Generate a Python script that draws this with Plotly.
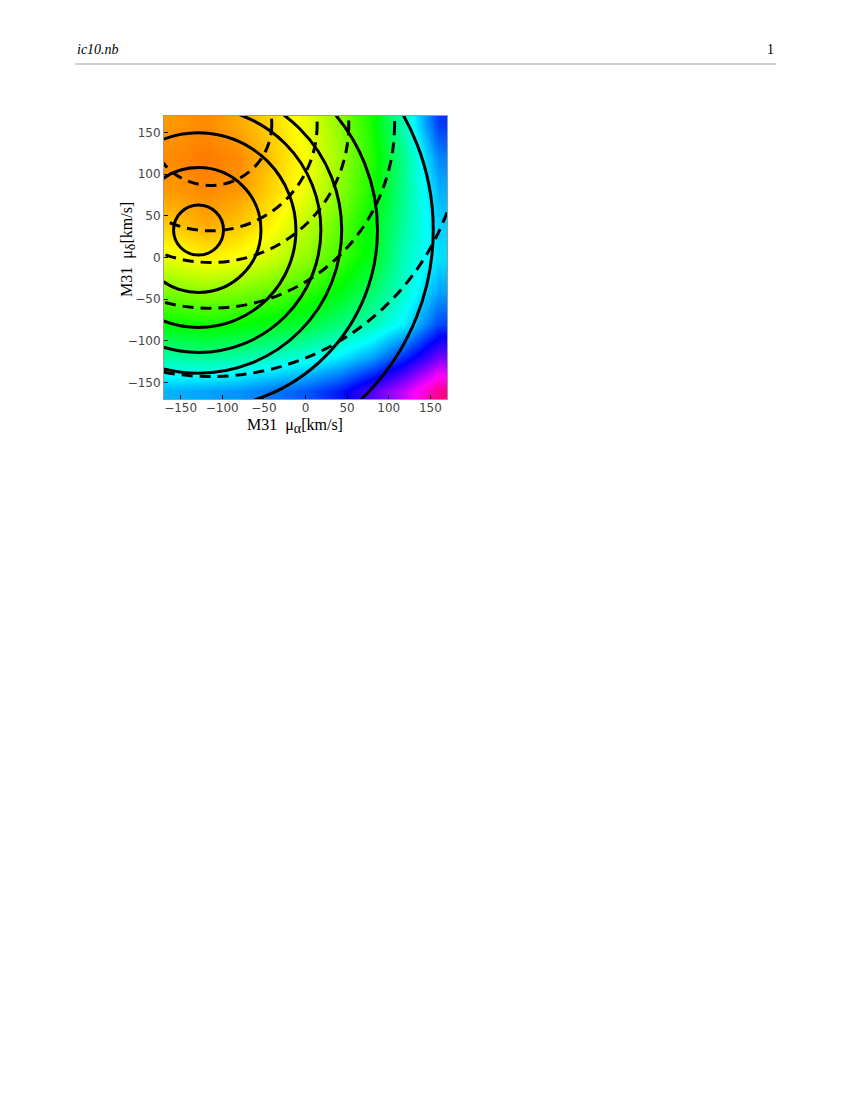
import plotly.graph_objects as go

# grade de amostragem (km/s)
mu_alpha = [-160, -120, -80, -40, 0, 40, 80, 120, 160]
mu_delta = [-160, -120, -80, -40, 0, 40, 80, 120, 160]

# valor de Hue, linhas de mu_delta = -160 ate 160
hue = [
    [0.55, 0.56, 0.57, 0.59, 0.61, 0.65, 0.72, 0.80, 0.91],
    [0.44, 0.43, 0.44, 0.46, 0.48, 0.51, 0.56, 0.64, 0.74],
    [0.33, 0.32, 0.33, 0.35, 0.37, 0.41, 0.45, 0.51, 0.62],
    [0.25, 0.24, 0.25, 0.27, 0.30, 0.34, 0.40, 0.47, 0.56],
    [0.18, 0.16, 0.17, 0.20, 0.24, 0.29, 0.35, 0.46, 0.52],
    [0.13, 0.11, 0.13, 0.16, 0.21, 0.27, 0.34, 0.44, 0.53],
    [0.10, 0.09, 0.10, 0.14, 0.18, 0.24, 0.32, 0.43, 0.55],
    [0.09, 0.08, 0.09, 0.13, 0.17, 0.23, 0.31, 0.43, 0.58],
    [0.10, 0.09, 0.11, 0.14, 0.18, 0.24, 0.32, 0.46, 0.63],
]

# contornos solidos (centro e raios)
solido_centro = (-128.5, 33)
solido_raios = [30, 75, 117, 147, 172, 215, 282]

# contornos tracejados (centro e raios)
tracejado_centro = (-114, 160)
tracejado_raios = [73.5, 128, 166, 221, 303]

ticks = [-150, -100, -50, 0, 50, 100, 150]

# escala de cores tipo Hue do Mathematica
escala_hue = [
    [0.0, "#ff0000"],
    [1 / 6, "#ffff00"],
    [2 / 6, "#00ff00"],
    [3 / 6, "#00ffff"],
    [4 / 6, "#0000ff"],
    [5 / 6, "#ff00ff"],
    [1.0, "#ff0000"],
]

# a pagina tem margem de 8px no body
OFF = 8
W, H = 852 - 2 * OFF, 1102 - 2 * OFF
L, T, LADO = 164 - OFF, 116 - OFF, 283
R, B = W - L - LADO, H - T - LADO


def px_x(x):
    return (x - OFF - L) / LADO


def px_y(y):
    return (T + LADO - (y - OFF)) / LADO


fig = go.Figure()

fig.add_trace(go.Heatmap(
    x=mu_alpha,
    y=mu_delta,
    z=hue,
    zmin=0,
    zmax=1,
    zsmooth="best",
    colorscale=escala_hue,
    showscale=False,
    hoverinfo="skip"
))

# circulos de contorno
for r in solido_raios:
    cx, cy = solido_centro
    fig.add_shape(
        type="circle", xref="x", yref="y",
        x0=cx - r, x1=cx + r, y0=cy - r, y1=cy + r,
        line=dict(color="black", width=3)
    )

for r in tracejado_raios:
    cx, cy = tracejado_centro
    fig.add_shape(
        type="circle", xref="x", yref="y",
        x0=cx - r, x1=cx + r, y0=cy - r, y1=cy + r,
        line=dict(color="black", width=3, dash="11px,7px")
    )

eixo = dict(
    range=[-170, 170],
    tickvals=ticks,
    ticks="inside",
    ticklen=4,
    tickcolor="black",
    tickwidth=1,
    showline=True,
    linecolor="#999999",
    linewidth=1,
    mirror=True,
    showgrid=False,
    zeroline=False,
    tickfont=dict(family="DejaVu Sans", size=12, color="#444444"),
)

fig.update_xaxes(**eixo, ticklabelstandoff=-2)
fig.update_yaxes(**eixo)

fonte_titulo = dict(family="Liberation Serif", size=16, color="black")
sub = '<sub><span style="font-size:14px">{}</span></sub>'

# titulos dos eixos
fig.add_annotation(
    x=px_x(295), y=px_y(414), xref="paper", yref="paper",
    text="M31\u00a0 μ" + sub.format("α") + "[km/s]",
    showarrow=False, xanchor="center", yanchor="top",
    font=fonte_titulo
)
fig.add_annotation(
    x=px_x(128), y=px_y(250), xref="paper", yref="paper",
    text="M31\u00a0 μ" + sub.format("δ") + "[km/s]",
    textangle=-90,
    showarrow=False, xanchor="center", yanchor="middle",
    font=fonte_titulo
)

# cabecalho da pagina
fig.add_annotation(
    x=px_x(75), y=px_y(50), xref="paper", yref="paper", text="<i>ic10.nb</i>",
    showarrow=False, xanchor="left", yanchor="middle",
    font=dict(family="Liberation Serif", size=14, color="black")
)
fig.add_annotation(
    x=px_x(776), y=px_y(50), xref="paper", yref="paper", text="1",
    showarrow=False, xanchor="right", yanchor="middle",
    font=dict(family="Liberation Serif", size=14, color="black")
)

fig.add_shape(
    type="line", xref="paper", yref="paper",
    x0=px_x(75), x1=px_x(776), y0=px_y(64), y1=px_y(64),
    line=dict(color="#d0d0d0", width=2)
)

fig.update_layout(
    width=W,
    height=H,
    autosize=False,
    margin=dict(l=L, r=R, t=T, b=B),
    plot_bgcolor="white",
    paper_bgcolor="white",
    showlegend=False,
)

fig.write_html("out.html")
